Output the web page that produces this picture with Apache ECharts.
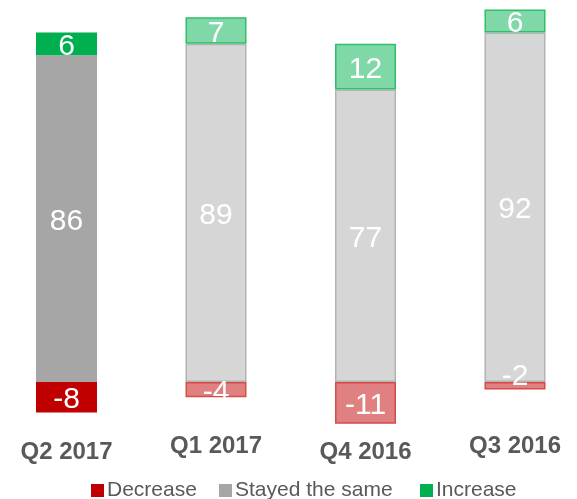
<!DOCTYPE html>
<html>
<head>
<meta charset="utf-8">
<script src="https://cdn.jsdelivr.net/npm/echarts@6/dist/echarts.min.js"></script>
<style>html,body{margin:0;padding:0;background:#fff}#c{width:577px;height:499px}</style>
</head>
<body>
<div id="c"></div>
<script>
var categories = ['Q2 2017', 'Q1 2017', 'Q4 2016', 'Q3 2016'];
var decrease = [-8, -4, -11, -2];
var stayed = [86, 89, 77, 92];
var increase = [6, 7, 12, 6];
var seriesNames = ['Decrease', 'Stayed the same', 'Increase'];

var full = ['#C00000', '#A6A6A6', '#00B050'];
var light = ['#E08080', '#D6D6D6', '#80D8A8'];
var lightBorder = ['#D64A4A', '#B3B3B3', '#2EBF6A'];

function makeData(vals, k) {
  return vals.map(function (v, i) {
    var item = { value: v };
    if (i === 0) {
      item.itemStyle = { color: full[k], borderColor: full[k], borderWidth: 0 };
    } else {
      item.itemStyle = { color: light[k], borderColor: lightBorder[k], borderWidth: 1.5 };
    }
    if (k === 0 && v === -2) {
      item.label = { offset: [0, -9] };
    }
    return item;
  });
}

var font = 'Liberation Sans, Arial, sans-serif';
var legendBase = {
  top: 475,
  icon: 'rect',
  itemWidth: 13,
  itemHeight: 13,
  textStyle: { color: '#595959', fontSize: 21, fontFamily: font, padding: [0, 0, 0, -2] }
};
function legendAt(name, left) {
  return Object.assign({}, legendBase, { data: [name], left: left });
}

var chart = echarts.init(document.getElementById('c'));
var lows = { 0: true, 2: true };
chart.setOption({
  animation: false,
  grid: { left: -8.25, width: 598, top: 2, bottom: 71.4, containLabel: false, outerBoundsMode: 'none' },
  legend: [legendAt(seriesNames[0], 86), legendAt(seriesNames[1], 214), legendAt(seriesNames[2], 415)],
  xAxis: {
    type: 'category',
    data: categories,
    axisLine: { show: false, onZero: false },
    axisTick: { show: false },
    axisLabel: {
      margin: 7,
      formatter: function (v, i) { return lows[i] ? '{lo|' + v + '}' : '{hi|' + v + '}'; },
      rich: {
        lo: { color: '#595959', fontSize: 24, fontWeight: 'bold', fontFamily: font, padding: [6, 0, 0, 0] },
        hi: { color: '#595959', fontSize: 24, fontWeight: 'bold', fontFamily: font, padding: [0, 0, 0, 0] }
      }
    }
  },
  yAxis: {
    type: 'value',
    min: -12,
    max: 100,
    show: false,
    splitLine: { show: false }
  },
  series: [decrease, stayed, increase].map(function (vals, k) {
    return {
      name: seriesNames[k],
      type: 'bar',
      stack: 'total',
      barWidth: 61,
      itemStyle: { color: full[k] },
      label: {
        show: true,
        position: 'inside',
        offset: [0, 3],
        color: '#ffffff',
        fontSize: 30,
        fontFamily: font,
        formatter: function (p) { return p.value; }
      },
      data: makeData(vals, k)
    };
  })
});
</script>
</body>
</html>
